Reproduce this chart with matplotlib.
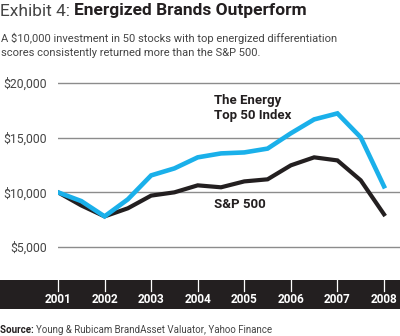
import matplotlib
matplotlib.use("Agg")
import matplotlib.pyplot as plt

plt.rcParams['font.family'] = ['Roboto', 'DejaVu Sans']

years = [2001, 2001.5, 2002, 2002.5, 2003, 2003.5, 2004, 2004.5,
         2005, 2005.5, 2006, 2006.5, 2007, 2007.5, 2008]
energy_top50 = [10000, 9200, 7800, 9360, 11550, 12190, 13200, 13560,
                13650, 14000, 15400, 16670, 17220, 15030, 10550]
sp500 = [10000, 8800, 7800, 8540, 9700, 10000, 10640, 10460,
         11000, 11190, 12470, 13200, 12920, 11100, 7990]

year_ticks = [2001, 2002, 2003, 2004, 2005, 2006, 2007, 2008]
value_ticks = [5000, 10000, 15000, 20000]
value_labels = ['$5,000', '$10,000', '$15,000', '$20,000']

W, H = 400, 336
BLUE = '#1ab0ea'
DARK = '#231f20'
GREY = '#444444'

fig = plt.figure(figsize=(W / 100, H / 100), dpi=100)


def fx(x):
    return x / W


def fy(y):
    return 1 - y / H


# pixel positions
px_per_year = (384 - 58) / 7
x0 = 2001 - 58 / px_per_year
x1 = 2001 + (400 - 58) / px_per_year
px_per_val = (247 - 83) / 15000


def val_at(y):
    return 20000 - (y - 83) / px_per_val


# main chart
top, bot = 76, 268
ax = fig.add_axes([fx(58), fy(bot), fx(400 - 58), (bot - top) / H])
ax.set_xlim(2001, x1)
ax.set_ylim(val_at(bot), val_at(top))
for v in value_ticks:
    ax.axhline(v, color='#8c8c8c', lw=1, zorder=1)
ax.plot(years, sp500, color=DARK, lw=3.0, solid_joinstyle='miter', zorder=3)
ax.plot(years, energy_top50, color=BLUE, lw=3.3, solid_joinstyle='miter', zorder=4)
ax.set_yticks(value_ticks)
ax.set_yticklabels(value_labels, fontsize=8.8, color=GREY)
ax.tick_params(axis='y', length=0, pad=8)
ax.set_xticks([])
for s in ax.spines.values():
    s.set_visible(False)
ax.patch.set_alpha(0)

ax.text(2001 + (214 - 58) / px_per_year, val_at(108), 'The Energy\nTop 50 Index',
        fontsize=9.5, fontweight='bold', color=DARK, va='center', ha='left',
        linespacing=1.15)
ax.text(2001 + (214 - 58) / px_per_year, val_at(205), 'S&P 500',
        fontsize=9.5, fontweight='bold', color=DARK, va='center', ha='left')

# black year band
bax = fig.add_axes([0, fy(309), 1, (309 - 280) / H])
bax.set_facecolor(DARK)
bax.set_xlim(x0, x1)
bax.set_ylim(0, 1)
bax.set_yticks([])
bax.set_xticks([])
for s in bax.spines.values():
    s.set_visible(False)
for yr in year_ticks:
    bax.plot([yr, yr], [1, 0.62], color='white', lw=0.9)
    bax.text(yr, 0.33, str(yr), color='white', fontsize=8.5, fontweight='bold',
             ha='center', va='center')

# title, mixed weight
fig.canvas.draw()
r = fig.canvas.get_renderer()
t1 = fig.text(0, fy(11), 'Exhibit 4: ', fontsize=12.5, color=GREY, va='center')
bb = t1.get_window_extent(renderer=r)
fig.text(bb.x1 / W, fy(11), 'Energized Brands Outperform', fontsize=12.5,
         fontweight='bold', color=DARK, va='center')

fig.text(fx(1), fy(38), 'A $10,000 investment in 50 stocks with top energized differentiation',
         fontsize=8, color=GREY, va='center')
fig.text(fx(1), fy(53), 'scores consistently returned more than the S&P 500.',
         fontsize=8, color=GREY, va='center')

s1 = fig.text(0, fy(330), 'Source: ', fontsize=7, fontweight='bold', color=DARK, va='center')
bb = s1.get_window_extent(renderer=r)
fig.text(bb.x1 / W, fy(330), 'Young & Rubicam BrandAsset Valuator, Yahoo Finance',
         fontsize=7, color=GREY, va='center')

fig.savefig('out.png', dpi=100)
